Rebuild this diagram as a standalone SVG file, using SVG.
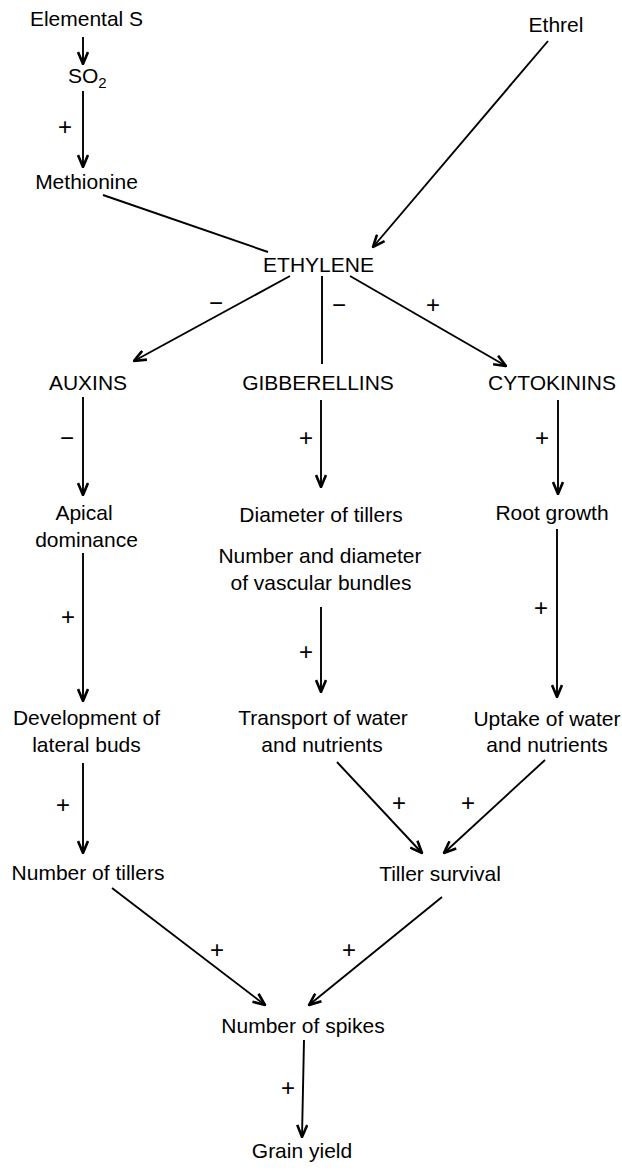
<svg xmlns="http://www.w3.org/2000/svg" width="622" height="1171" viewBox="0 0 622 1171">
<defs>
<marker id="ah" viewBox="0 0 14 12" refX="13" refY="6" markerWidth="14" markerHeight="12" markerUnits="userSpaceOnUse" orient="auto">
<path d="M1,1 L13,6 L1,11" fill="none" stroke="#000" stroke-width="2.6" stroke-linejoin="miter"/>
</marker>
<style>
text{font-family:"Liberation Sans",Arial,sans-serif;font-size:21px;fill:#000;text-anchor:middle}
.c line{stroke:#000;stroke-width:1.9;fill:none}
.c line.a{marker-end:url(#ah)}
#signs text{font-size:24px}
</style>
</defs>
<rect width="622" height="1171" fill="#fff"/>
<g class="c" id="connectors">
<line class="a" x1="83" y1="37" x2="83" y2="64"/>
<line class="a" x1="83" y1="91" x2="83" y2="167"/>
<line x1="103" y1="195" x2="268" y2="252"/>
<line class="a" x1="548" y1="41" x2="373" y2="247"/>
<line class="a" x1="290" y1="276" x2="134" y2="361"/>
<line x1="322" y1="276" x2="322" y2="364"/>
<line class="a" x1="350" y1="276" x2="506" y2="366"/>
<line class="a" x1="83" y1="397" x2="83" y2="495"/>
<line class="a" x1="321" y1="400" x2="321" y2="487"/>
<line class="a" x1="558" y1="400" x2="558" y2="494"/>
<line class="a" x1="83" y1="553" x2="83" y2="701"/>
<line class="a" x1="321" y1="607" x2="321" y2="692"/>
<line class="a" x1="557" y1="529" x2="557" y2="697"/>
<line class="a" x1="83" y1="763" x2="83" y2="853"/>
<line class="a" x1="337" y1="762" x2="422" y2="853"/>
<line class="a" x1="545" y1="760" x2="444" y2="853"/>
<line class="a" x1="112" y1="888" x2="265" y2="1005"/>
<line class="a" x1="442" y1="897" x2="309" y2="1005"/>
<line class="a" x1="304" y1="1040" x2="302" y2="1137"/>
</g>
<g id="signs">
<text x="65" y="135">+</text>
<text x="216" y="311">−</text>
<text x="339" y="313">−</text>
<text x="433" y="313">+</text>
<text x="67" y="446">−</text>
<text x="306" y="446">+</text>
<text x="542" y="446">+</text>
<text x="68" y="625">+</text>
<text x="306" y="660">+</text>
<text x="541" y="616">+</text>
<text x="63" y="813">+</text>
<text x="399" y="811">+</text>
<text x="468" y="811">+</text>
<text x="217" y="958">+</text>
<text x="349" y="958">+</text>
<text x="288" y="1096">+</text>
</g>
<g id="elemental-s"><text x="86.5" y="26">Elemental S</text></g>
<g id="so2"><text x="68" y="83" style="text-anchor:start">SO<tspan font-size="15" dy="5">2</tspan></text></g>
<g id="methionine"><text x="86.5" y="189">Methionine</text></g>
<g id="ethrel"><text x="556" y="32">Ethrel</text></g>
<g id="ethylene"><text x="318.5" y="272">ETHYLENE</text></g>
<g id="auxins"><text x="88" y="390">AUXINS</text></g>
<g id="gibberellins"><text x="318" y="390">GIBBERELLINS</text></g>
<g id="cytokinins"><text x="552" y="390">CYTOKININS</text></g>
<g id="apical-dominance"><text x="84" y="520">Apical</text><text x="86.5" y="547">dominance</text></g>
<g id="diameter-of-tillers"><text x="321" y="522">Diameter of tillers</text></g>
<g id="vascular-bundles"><text x="320" y="563">Number and diameter</text><text x="321" y="590">of vascular bundles</text></g>
<g id="root-growth"><text x="552" y="520">Root growth</text></g>
<g id="lateral-buds"><text x="86.5" y="725">Development of</text><text x="86.5" y="752">lateral buds</text></g>
<g id="transport"><text x="323" y="725">Transport of water</text><text x="322" y="752">and nutrients</text></g>
<g id="uptake"><text x="547" y="726">Uptake of water</text><text x="547" y="752">and nutrients</text></g>
<g id="number-of-tillers"><text x="88" y="880">Number of tillers</text></g>
<g id="tiller-survival"><text x="440" y="881">Tiller survival</text></g>
<g id="number-of-spikes"><text x="303" y="1033">Number of spikes</text></g>
<g id="grain-yield"><text x="302" y="1158">Grain yield</text></g>
</svg>
